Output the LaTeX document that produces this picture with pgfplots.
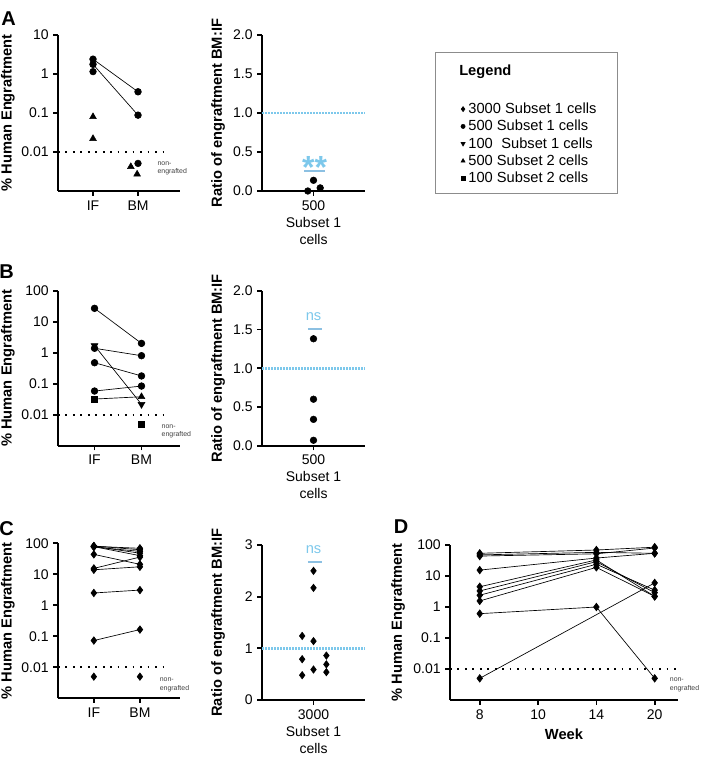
\documentclass[border=0pt]{standalone}
\usepackage{pgfplots}
\pgfplotsset{compat=1.18}
\usepackage{fontspec}
\setmainfont{Liberation Sans}
\definecolor{lb}{RGB}{125,200,235}
\definecolor{lbar}{RGB}{140,192,226}
\tikzset{
  pair/.style={black, line width=0.5pt},
  ci/.style={mark=*, mark size=2.5pt, mark options={solid, fill=black}},
  di/.style={mark=diamond*, mark size=2.8pt, mark options={solid, fill=black}},
  tu/.style={mark=triangle*, mark size=2.9pt, mark options={solid, fill=black}},
  td/.style={mark=triangle*, mark size=2.9pt, mark options={solid, fill=black, rotate=180}},
  sq/.style={mark=square*, mark size=2.3pt, mark options={solid, fill=black}},
  om/.style={only marks, black},
  bdot/.style={black, line width=1.3pt, dash pattern=on 1.3pt off 4.3pt},
  cdot/.style={lb, line width=2pt, dash pattern=on 1.2pt off 1.05pt},
  ne/.style={anchor=west, align=left, font=\fontsize{5.2}{6.3}\selectfont, text=black!75},
}
\pgfplotsset{
  gp/.style={scale only axis, axis lines=left, axis line style={line width=1.35pt,-},
    tick style={black, line width=1.3pt}, major tick length=3.5pt, tick align=outside,
    tick label style={font=\fontsize{10.5}{12}\selectfont},
    ylabel style={font=\bfseries\fontsize{11}{12}\selectfont, anchor=center},
    xlabel style={font=\bfseries\fontsize{11}{12}\selectfont},
    /pgf/number format/assume math mode=true, clip=false,
    yminorticks=false, xminorticks=false},
}
\begin{document}
\begin{tikzpicture}
\useasboundingbox (0pt,0pt) rectangle (525.75pt,-574.5pt);

% ---------------- A left
\begin{axis}[gp, ymode=log, ymin=0.001, ymax=10, xmin=0.222, xmax=2.933, xtick={1,2}, xticklabels={IF,BM},
  ylabel={\% Human Engraftment}, ylabel style={at={(axis description cs:-0.41,0.5)}},
  width=91.5pt, height=117pt, at={(43.5pt,-143.25pt)}, anchor=south west,
  ytick={0.01,0.1,1,10}, yticklabels={0.01,0.1,1,10}]
\addplot[bdot] coordinates {(0.222,0.01) (2.6,0.01)};
\addplot[pair, ci] coordinates {(1,2.4) (2,0.35)};
\addplot[pair, ci] coordinates {(1,1.77) (2,0.088)};
\addplot[om, ci] coordinates {(1,1.15) (2,0.0051)};
\addplot[om, tu] coordinates {(1,0.08) (1,0.022) (1.84,0.0042) (1.98,0.0027)};
\node[ne] at (axis cs:2.33,0.0038) {non-\\engrafted};
\end{axis}

% ---------------- A ratio
\begin{axis}[gp, xmin=0, xmax=2, xtick={1}, ymin=0, ymax=2,
  ylabel={Ratio of engraftment BM:IF}, ylabel style={at={(axis description cs:-0.427,0.5)}},
  xticklabel style={align=center, font=\fontsize{10.5}{12.75}\selectfont},
  width=77.25pt, height=117pt, at={(196.5pt,-143.25pt)}, anchor=south west,
  ytick={0,0.5,1,1.5,2}, yticklabels={0.0,0.5,1.0,1.5,2.0}, xticklabels={{500\\Subset 1\\cells}}]
\addplot[cdot] coordinates {(0,1) (2,1)};
\addplot[lbar, line width=1.5pt] coordinates {(0.82,0.25) (1.22,0.25)};
\addplot[om, ci] coordinates {(0.89,0.0) (1.0,0.137) (1.13,0.04)};
\node[text=lb, font=\bfseries\fontsize{24}{26}\selectfont] at (axis cs:1.02,0.30) {**};
\end{axis}

% ---------------- B left
\begin{axis}[gp, ymode=log, ymin=0.001, ymax=100, xmin=0.222, xmax=2.82, xtick={1,2}, xticklabels={IF,BM},
  ylabel={\% Human Engraftment}, ylabel style={at={(axis description cs:-0.41,0.5)}},
  width=91.5pt, height=116.25pt, at={(43.5pt,-334.28pt)}, anchor=south west,
  ytick={0.01,0.1,1,10,100}, yticklabels={0.01,0.1,1,10,100}]
\addplot[bdot] coordinates {(0.222,0.01) (2.6,0.01)};
\addplot[pair, ci] coordinates {(1,27) (2,2.0)};
\addplot[pair, ci] coordinates {(1,1.39) (2,0.8)};
\addplot[pair, td] coordinates {(1,1.7) (2,0.0216)};
\addplot[pair, ci] coordinates {(1,0.475) (2,0.178)};
\addplot[pair, ci] coordinates {(1,0.058) (2,0.084)};
\addplot[pair] coordinates {(1,0.032) (2,0.038)};
\addplot[om, sq] coordinates {(1,0.032) (2,0.0049)};
\addplot[om, tu] coordinates {(2,0.038)};
\node[ne] at (axis cs:2.33,0.0029) {non-\\engrafted};
\end{axis}

% ---------------- B ratio
\begin{axis}[gp, xmin=0, xmax=2, xtick={1}, ymin=0, ymax=2,
  ylabel={Ratio of engraftment BM:IF}, ylabel style={at={(axis description cs:-0.427,0.5)}},
  xticklabel style={align=center, font=\fontsize{10.5}{12.75}\selectfont},
  width=77.25pt, height=116.25pt, at={(196.5pt,-334.28pt)}, anchor=south west,
  ytick={0,0.5,1,1.5,2}, yticklabels={0.0,0.5,1.0,1.5,2.0}, xticklabels={{500\\Subset 1\\cells}}]
\addplot[cdot] coordinates {(0,1) (2,1)};
\addplot[lbar, line width=1.5pt] coordinates {(0.89,1.5) (1.16,1.5)};
\addplot[om, ci] coordinates {(1,1.38) (1,0.6) (1,0.34) (1,0.07)};
\node[text=lb, font=\fontsize{11}{12}\selectfont] at (axis cs:1.0,1.66) {ns};
\end{axis}

% ---------------- C left
\begin{axis}[gp, ymode=log, ymin=0.001, ymax=100, xmin=0.222, xmax=2.87, xtick={1,2}, xticklabels={IF,BM},
  ylabel={\% Human Engraftment}, ylabel style={at={(axis description cs:-0.41,0.5)}},
  width=91.5pt, height=116.25pt, at={(43.5pt,-523.73pt)}, anchor=south west,
  ytick={0.01,0.1,1,10,100}, yticklabels={0.01,0.1,1,10,100}]
\addplot[bdot] coordinates {(0.222,0.01) (2.6,0.01)};
\addplot[pair, di] coordinates {(1,80) (2,69)};
\addplot[pair, di] coordinates {(1,82) (2,62)};
\addplot[pair, di] coordinates {(1,76) (2,55)};
\addplot[pair, di] coordinates {(1,80) (2,48)};
\addplot[pair, di] coordinates {(1,78) (2,40)};
\addplot[pair, di] coordinates {(1,44) (2,21)};
\addplot[pair, di] coordinates {(1,15.5) (2,36)};
\addplot[pair, di] coordinates {(1,14) (2,17.5)};
\addplot[pair, di] coordinates {(1,2.5) (2,3.1)};
\addplot[pair, di] coordinates {(1,0.073) (2,0.165)};
\addplot[om, di] coordinates {(1,0.005) (2,0.005)};
\node[ne] at (axis cs:2.33,0.0027) {non-\\engrafted};
\end{axis}

% ---------------- C ratio
\begin{axis}[gp, xmin=0, xmax=2, xtick={1}, ymin=0, ymax=3,
  ylabel={Ratio of engraftment BM:IF}, ylabel style={at={(axis description cs:-0.427,0.5)}},
  xticklabel style={align=center, font=\fontsize{10.5}{12.75}\selectfont},
  width=77.25pt, height=116.25pt, at={(196.5pt,-525pt)}, anchor=south west,
  ytick={0,1,2,3}, yticklabels={0,1,2,3}, xticklabels={{3000\\Subset 1\\cells}}]
\addplot[cdot] coordinates {(0,1) (2,1)};
\addplot[lbar, line width=1.5pt] coordinates {(0.89,2.68) (1.16,2.68)};
\addplot[om, di] coordinates {(1,2.5) (1,2.17) (0.78,1.24) (1,1.14) (0.78,0.79) (1.25,0.86) (1.25,0.69) (1,0.59) (1.25,0.54) (0.78,0.48)};
\node[text=lb, font=\fontsize{11}{12}\selectfont] at (axis cs:1.0,2.91) {ns};
\end{axis}

% ---------------- D
\begin{axis}[gp, ymode=log, at={(337.5pt,-525pt)}, anchor=south west, width=171pt, height=116.25pt,
  ymin=0.001, ymax=100, xmin=-0.51, xmax=3.4, xtick={0,1,2,3}, xticklabels={8,10,14,20},
  ytick={0.01,0.1,1,10,100}, yticklabels={0.01,0.1,1,10,100},
  xlabel={Week}, ylabel={\% Human Engraftment}, ylabel style={at={(axis description cs:-0.228,0.5)}}]
\addplot[bdot] coordinates {(-0.51,0.01) (3.45,0.01)};
\addplot[pair, di] coordinates {(0,54) (2,69) (3,85)};
\addplot[pair, di] coordinates {(0,48) (2,58) (3,54)};
\addplot[pair, di] coordinates {(0,44) (2,52) (3,80)};
\addplot[pair, di] coordinates {(0,15.5) (2,38) (3,54)};
\addplot[pair, di] coordinates {(0,4.5) (2,33) (3,2.2)};
\addplot[pair, di] coordinates {(0,3.3) (2,29) (3,2.9)};
\addplot[pair, di] coordinates {(0,2.4) (2,24) (3,3.5)};
\addplot[pair, di] coordinates {(0,1.57) (2,19) (3,2.2)};
\addplot[pair, di] coordinates {(0,0.61) (2,1.0) (3,0.005)};
\addplot[pair, di] coordinates {(0,0.005) (3,6)};
\node[ne] at (axis cs:3.18,0.0031) {non-\\engrafted};
\end{axis}

% ---------------- Legend
\draw[black!45, line width=0.8pt] (326.8pt,-39.2pt) rectangle (463pt,-145pt);
\node[anchor=west, font=\bfseries\fontsize{11}{13}\selectfont, inner sep=0pt] at (344.25pt,-53.8pt) {Legend};
\begin{axis}[hide axis, scale only axis, width=10pt, height=1pt, at={(345.5pt,-75.5pt)}, anchor=north west,
  xmin=0, xmax=1, ymin=0, ymax=1, legend cell align=left,
  legend style={at={(0,1)}, anchor=north west, draw=none, fill=none, font=\fontsize{11}{13}\selectfont,
    row sep=0.7pt, inner sep=0pt, nodes={inner xsep=2.4pt, inner ysep=1.4pt}},
  legend image code/.code={\draw[#1] plot coordinates {(0.08cm,0cm)};}]
\addlegendimage{only marks, black, mark=diamond*, mark size=1.9pt}
\addlegendentry{3000 Subset 1 cells}
\addlegendimage{only marks, black, mark=*, mark size=1.6pt}
\addlegendentry{500 Subset 1 cells}
\addlegendimage{only marks, black, mark=triangle*, mark size=1.8pt, mark options={rotate=180}}
\addlegendentry{100\hspace{0.3em} Subset 1 cells}
\addlegendimage{only marks, black, mark=triangle*, mark size=1.8pt}
\addlegendentry{500 Subset 2 cells}
\addlegendimage{only marks, black, mark=square*, mark size=1.5pt}
\addlegendentry{100 Subset 2 cells}
\end{axis}

% ---------------- Panel letters
\node[font=\bfseries\fontsize{15}{17}\selectfont] at (6.4pt,-13.9pt) {A};
\node[font=\bfseries\fontsize{15}{17}\selectfont] at (4.9pt,-203.6pt) {B};
\node[font=\bfseries\fontsize{15}{17}\selectfont] at (4.9pt,-396.75pt) {C};
\node[font=\bfseries\fontsize{15}{17}\selectfont] at (300.75pt,-395.25pt) {D};
\end{tikzpicture}
\end{document}
